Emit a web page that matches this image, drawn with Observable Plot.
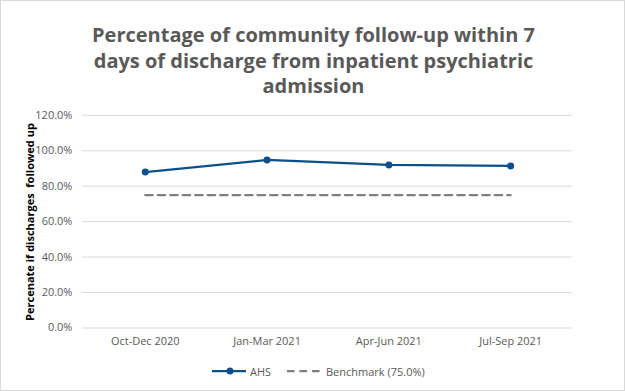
<!DOCTYPE html>
<html>
<head>
<meta charset="utf-8">
<script src="https://cdn.jsdelivr.net/npm/d3@7"></script>
<script src="https://cdn.jsdelivr.net/npm/@observablehq/plot@0.6"></script>
<style>
  html, body { margin: 0; padding: 0; background: #fff; }
  #wrap { position: relative; width: 625px; height: 391px; box-sizing: border-box; border: 1px solid #d9d9d9; overflow: hidden; font-family: "Open Sans", sans-serif; }
  #chart { position: absolute; left: -1px; top: -1px; }
  #title { position: absolute; left: 0; width: 625px; top: 21px; text-align: center; font-weight: bold; font-size: 20px; line-height: 25.5px; color: #595959; }
  #ylabel { position: absolute; left: 28px; top: 221px; transform: translate(-50%, -50%) rotate(-90deg); white-space: nowrap; font-weight: bold; font-size: 11px; color: #000; }
  #legend { position: absolute; top: 362px; left: 0; width: 625px; font-size: 11px; color: #595959; }
  #legend svg { position: absolute; top: 0; }
  #legend span { position: absolute; top: 1px; }
</style>
</head>
<body>
<div id="wrap">
  <div id="chart"></div>
  <div id="title">Percentage of community follow-up within 7<br>days of discharge from inpatient psychiatric<br>admission</div>
  <div id="ylabel">Percenate if discharges&nbsp; followed up</div>
  <div id="legend">
    <svg style="left:210px" width="40" height="16"><line x1="1" x2="35" y1="8" y2="8" stroke="#0d4f8b" stroke-width="2.25"/><circle cx="19" cy="8" r="3.5" fill="#0d4f8b"/></svg>
    <span style="left:249px">AHS</span>
    <svg style="left:285px" width="40" height="16"><line x1="1" x2="35" y1="8" y2="8" stroke="#7f7f7f" stroke-width="2.25" stroke-dasharray="7.5,5"/></svg>
    <span style="left:325px">Benchmark (75.0%)</span>
  </div>
</div>
<script>
const quarters = ["Oct-Dec 2020", "Jan-Mar 2021", "Apr-Jun 2021", "Jul-Sep 2021"];
const ahsValues = [0.880, 0.948, 0.920, 0.914];
const benchmarkValue = 0.75;
const yTicks = [0, 0.2, 0.4, 0.6, 0.8, 1.0, 1.2];

const ahs = quarters.map((q, i) => ({quarter: q, value: ahsValues[i]}));
const bench = quarters.map(q => ({quarter: q, value: benchmarkValue}));

const chart = Plot.plot({
  width: 625,
  height: 391,
  marginTop: 115,
  marginBottom: 63,
  marginLeft: 82,
  marginRight: 52,
  style: {fontFamily: "Open Sans, sans-serif", fontSize: "11px", color: "#595959", background: "transparent"},
  x: {type: "point", domain: quarters, padding: 0.5, label: null},
  y: {domain: [0, 1.2], label: null},
  marks: [
    Plot.gridY(yTicks, {stroke: "#d9d9d9", strokeOpacity: 1, strokeWidth: 1}),
    Plot.axisY(yTicks, {tickSize: 0, tickPadding: 10, tickFormat: d => (d * 100).toFixed(1) + "%", fill: "#595959", label: null}),
    Plot.axisX({tickSize: 0, tickPadding: 9, fill: "#595959", label: null}),
    Plot.line(bench, {x: "quarter", y: "value", stroke: "#7f7f7f", strokeWidth: 2.25, strokeDasharray: "7.5,5"}),
    Plot.line(ahs, {x: "quarter", y: "value", stroke: "#0d4f8b", strokeWidth: 2.25}),
    Plot.dot(ahs, {x: "quarter", y: "value", r: 3.5, fill: "#0d4f8b", stroke: "none"})
  ]
});
document.getElementById("chart").appendChild(chart);
</script>
</body>
</html>
